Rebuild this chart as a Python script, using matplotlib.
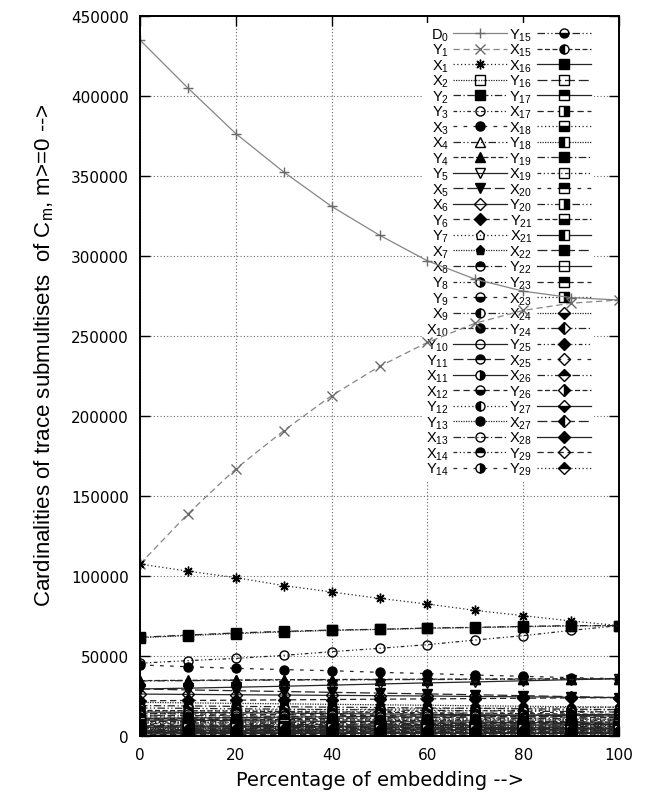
import matplotlib
matplotlib.use('Agg')
import matplotlib.pyplot as plt
from matplotlib import font_manager
import numpy as np

# percentage of embedding (x axis)
pct = [0, 10, 20, 30, 40, 50, 60, 70, 80, 90, 100]

# cardinalities, in thousands
D0 = [435, 405, 376.5, 352.5, 331, 313, 297, 285.5, 278, 274, 272.5]
Y1 = [107.5, 138.8, 167, 190.8, 212.7, 231, 246, 258, 266, 270.5, 272.5]
X1 = [107.5, 103, 99, 94, 90, 86, 82.5, 78.5, 75.2, 71.9, 69]
X2 = [61.5, 62.8, 64, 65.1, 66, 66.6, 67.3, 67.8, 68.3, 68.8, 69]
Y2 = [61.7, 63.1, 64.4, 65.4, 66.2, 66.7, 67.5, 67.9, 68.5, 69, 69]
Y3 = [45.5, 47.1, 48.5, 50.4, 52.7, 54.8, 57.1, 60, 62.7, 66, 69]
X3 = [44.4, 43.3, 42.3, 41.5, 40.8, 39.8, 39, 38.1, 37.3, 36.5, 35.8]
X4 = [34.4, 34.6, 34.8, 35, 35.1, 35.2, 35.3, 35.4, 35.5, 35.6, 35.8]
Y4 = [34.6, 34.8, 35, 35.2, 35.3, 35.4, 35.5, 35.6, 35.7, 35.8, 35.8]
Y5 = [29.4, 29.9, 30.5, 31.1, 31.8, 32.5, 33.2, 33.8, 34.5, 35.2, 35.8]
X5 = [29.4, 28.8, 28.3, 27.8, 27.3, 26.8, 26.3, 25.8, 25.2, 24.6, 24]
X6 = [26.2, 26, 25.8, 25.6, 25.4, 25.2, 25, 24.7, 24.5, 24.2, 24]
Y6 = [22, 22.2, 22.4, 22.6, 22.8, 23, 23.2, 23.4, 23.6, 23.8, 24]
Y7 = [15.5, 15.8, 16, 16.3, 16.5, 16.8, 17, 17.3, 17.5, 17.8, 18]
X7 = [21, 20.7, 20.4, 20.1, 19.8, 19.5, 19.2, 18.9, 18.6, 18.3, 18]
X8 = [19, 18.8, 18.5, 18.3, 18, 17.8, 17.5, 17.3, 17, 16.8, 16.5]
Y8 = [14, 14.3, 14.5, 14.8, 15, 15.3, 15.5, 15.8, 16, 16.3, 16.5]
Y9 = [12.5, 12.8, 13, 13.3, 13.5, 13.8, 14, 14.3, 14.5, 14.8, 15]
X9 = [17.5, 17.3, 17, 16.8, 16.5, 16.3, 16, 15.8, 15.5, 15.3, 15]
X10 = [16, 15.8, 15.5, 15.3, 15, 14.8, 14.5, 14.3, 14, 13.8, 13.5]
Y10 = [11, 11.3, 11.5, 11.8, 12, 12.3, 12.5, 12.8, 13, 13.3, 13.5]
Y11 = [10, 10.3, 10.5, 10.8, 11, 11.3, 11.5, 11.8, 12, 12.3, 12.5]
X11 = [15, 14.8, 14.5, 14.3, 14, 13.8, 13.5, 13.3, 13, 12.8, 12.5]
X12 = [14, 13.8, 13.5, 13.3, 13, 12.8, 12.5, 12.3, 12, 11.8, 11.5]
Y12 = [9, 9.3, 9.5, 9.8, 10, 10.3, 10.5, 10.8, 11, 11.3, 11.5]
Y13 = [8, 8.3, 8.5, 8.8, 9, 9.3, 9.5, 9.8, 10, 10.3, 10.5]
X13 = [13, 12.8, 12.5, 12.3, 12, 11.8, 11.5, 11.3, 11, 10.8, 10.5]
X14 = [12, 11.8, 11.5, 11.3, 11, 10.8, 10.5, 10.3, 10, 9.8, 9.5]
Y14 = [7.2, 7.4, 7.7, 7.9, 8.1, 8.4, 8.6, 8.8, 9.1, 9.3, 9.5]
Y15 = [6.5, 6.7, 6.9, 7.1, 7.3, 7.6, 7.8, 8, 8.2, 8.5, 8.7]
X15 = [11, 10.8, 10.5, 10.3, 10.1, 9.9, 9.6, 9.4, 9.2, 8.9, 8.7]
X16 = [10, 9.8, 9.6, 9.4, 9.2, 9, 8.8, 8.6, 8.4, 8.2, 8]
Y16 = [6, 6.2, 6.4, 6.6, 6.8, 7, 7.2, 7.4, 7.6, 7.8, 8]
Y17 = [5.4, 5.6, 5.8, 5.9, 6.1, 6.3, 6.5, 6.7, 6.8, 7, 7.2]
X17 = [9.2, 9, 8.8, 8.6, 8.4, 8.2, 8, 7.8, 7.6, 7.4, 7.2]
X18 = [8.5, 8.3, 8.1, 7.9, 7.7, 7.5, 7.3, 7.1, 6.9, 6.7, 6.5]
Y18 = [4.8, 5, 5.1, 5.3, 5.5, 5.7, 5.8, 6, 6.2, 6.3, 6.5]
Y19 = [4.3, 4.5, 4.6, 4.8, 5, 5.2, 5.3, 5.5, 5.7, 5.8, 6]
X19 = [7.8, 7.6, 7.4, 7.3, 7.1, 6.9, 6.7, 6.5, 6.4, 6.2, 6]
X20 = [7, 6.8, 6.7, 6.5, 6.4, 6.2, 6, 5.9, 5.7, 5.6, 5.4]
Y20 = [3.9, 4, 4.2, 4.3, 4.5, 4.7, 4.8, 5, 5.1, 5.3, 5.4]
Y21 = [3.5, 3.6, 3.8, 3.9, 4.1, 4.2, 4.4, 4.5, 4.6, 4.8, 4.9]
X21 = [6.4, 6.2, 6.1, 5.9, 5.8, 5.7, 5.5, 5.4, 5.2, 5.1, 4.9]
X22 = [5.8, 5.7, 5.5, 5.4, 5.3, 5.1, 5, 4.8, 4.7, 4.5, 4.4]
Y22 = [3.1, 3.2, 3.4, 3.5, 3.6, 3.8, 3.9, 4, 4.1, 4.3, 4.4]
Y23 = [2.7, 2.8, 2.9, 3.1, 3.2, 3.3, 3.4, 3.5, 3.6, 3.8, 3.9]
X23 = [5.2, 5.1, 4.9, 4.8, 4.7, 4.6, 4.4, 4.3, 4.2, 4, 3.9]
X24 = [4.6, 4.5, 4.4, 4.2, 4.1, 4, 3.9, 3.8, 3.6, 3.5, 3.4]
Y24 = [2.3, 2.4, 2.5, 2.6, 2.7, 2.9, 3, 3.1, 3.2, 3.3, 3.4]
Y25 = [2, 2.1, 2.2, 2.3, 2.4, 2.5, 2.6, 2.7, 2.8, 2.9, 3]
X25 = [4, 3.9, 3.8, 3.7, 3.6, 3.5, 3.4, 3.3, 3.2, 3.1, 3]
X26 = [3.4, 3.3, 3.2, 3.1, 3, 3, 2.9, 2.8, 2.7, 2.6, 2.5]
Y26 = [1.6, 1.7, 1.8, 1.9, 2, 2, 2.1, 2.2, 2.3, 2.4, 2.5]
Y27 = [1.3, 1.4, 1.5, 1.5, 1.6, 1.7, 1.7, 1.8, 1.9, 1.9, 2]
X27 = [2.8, 2.7, 2.6, 2.6, 2.5, 2.4, 2.3, 2.2, 2.2, 2.1, 2]
X28 = [2.2, 2.1, 2.1, 2, 1.9, 1.9, 1.8, 1.7, 1.6, 1.6, 1.5]
Y29a = [0.9, 0.9, 1, 1, 1, 1.1, 1.1, 1.1, 1.2, 1.2, 1.2]
Y29b = [0.4, 0.4, 0.5, 0.5, 0.6, 0.6, 0.6, 0.7, 0.7, 0.8, 0.8]

# legend order (column-major, as in the picture)
series = [
    ('D', '0', D0), ('Y', '1', Y1), ('X', '1', X1), ('X', '2', X2),
    ('Y', '2', Y2), ('Y', '3', Y3), ('X', '3', X3), ('X', '4', X4),
    ('Y', '4', Y4), ('Y', '5', Y5), ('X', '5', X5), ('X', '6', X6),
    ('Y', '6', Y6), ('Y', '7', Y7), ('X', '7', X7), ('X', '8', X8),
    ('Y', '8', Y8), ('Y', '9', Y9), ('X', '9', X9), ('X', '10', X10),
    ('Y', '10', Y10), ('Y', '11', Y11), ('X', '11', X11), ('X', '12', X12),
    ('Y', '12', Y12), ('Y', '13', Y13), ('X', '13', X13), ('X', '14', X14),
    ('Y', '14', Y14),
    ('Y', '15', Y15), ('X', '15', X15), ('X', '16', X16), ('Y', '16', Y16),
    ('Y', '17', Y17), ('X', '17', X17), ('X', '18', X18), ('Y', '18', Y18),
    ('Y', '19', Y19), ('X', '19', X19), ('X', '20', X20), ('Y', '20', Y20),
    ('Y', '21', Y21), ('X', '21', X21), ('X', '22', X22), ('Y', '22', Y22),
    ('Y', '23', Y23), ('X', '23', X23), ('X', '24', X24), ('Y', '24', Y24),
    ('Y', '25', Y25), ('X', '25', X25), ('X', '26', X26), ('Y', '26', Y26),
    ('Y', '27', Y27), ('X', '27', X27), ('X', '28', X28), ('Y', '29', Y29a),
    ('Y', '29', Y29b),
]

# gnuplot-like point types: (marker, fill)
first_points = [('+', 'full'), ('x', 'full'), ((8, 2, 0), 'full'),
                ('s', 'none'), ('s', 'full'), ('o', 'none'), ('o', 'full'),
                ('^', 'none'), ('^', 'full'), ('v', 'none'), ('v', 'full'),
                ('D', 'none'), ('D', 'full'), ('p', 'none'), ('p', 'full')]
part_fills = ['top', 'right', 'bottom', 'left', 'full', 'none']
line_styles = ['-', (0, (5, 3)), (0, (1, 2)), (0, (1, 1)), (0, (6, 2, 1, 2)),
               (0, (3, 2, 1, 2, 1, 2)), (0, (3, 5)), (0, (6, 2, 1, 2, 1, 2)),
               (0, (4, 2)), '-', (0, (8, 3))]


def point_style(i):
	if i < len(first_points):
		return first_points[i]
	j = i - len(first_points)
	if j < 16:
		return 'o', part_fills[j % len(part_fills)]
	if j < 32:
		return 's', part_fills[j % len(part_fills)]
	return 'D', part_fills[j % len(part_fills)]


def main():
	names = {f.name for f in font_manager.fontManager.ttflist}
	narrow = 'Liberation Sans Narrow' if 'Liberation Sans Narrow' in names else 'Liberation Sans'

	plt.rcParams['mathtext.fontset'] = 'custom'
	plt.rcParams['mathtext.rm'] = 'Liberation Sans'
	plt.rcParams['mathtext.it'] = 'Liberation Sans'
	plt.rcParams['mathtext.default'] = 'rm'

	fig = plt.figure(figsize=(6.48, 8.03), dpi=100)
	ax = fig.add_axes([140 / 648, 1 - 737 / 803, 479 / 648, 720 / 803])

	handles = []
	labels = []
	for i, (letter, idx, vals) in enumerate(series):
		marker, fill = point_style(i)
		color = '#858585' if i < 2 else '#262626'
		edge = '#6a6a6a' if i < 2 else 'black'
		ms = 7 if i < 3 else 6.5
		kw = dict(marker=marker, markersize=ms, markeredgecolor=edge,
				  markeredgewidth=1.0, fillstyle=fill)
		if fill == 'none':
			kw['markerfacecolor'] = 'none'
			kw['fillstyle'] = 'full'
		else:
			kw['markerfacecolor'] = 'black'
			kw['markerfacecoloralt'] = 'white'
		line, = ax.plot(pct, np.array(vals) * 1000, color=color, linewidth=0.9,
						linestyle=line_styles[i % len(line_styles)], zorder=2, **kw)
		handles.append(line)
		labels.append(letter + r'$_{%s}$' % idx)

	ax.set_xlim(0, 100)
	ax.set_ylim(0, 450000)
	ax.set_xticks(range(0, 101, 20))
	ax.set_yticks(range(0, 450001, 50000))
	ax.grid(True, linestyle=(0, (1, 2)), color='#666666', linewidth=0.8)
	ax.set_axisbelow(True)
	ax.tick_params(direction='in', length=7, width=1, top=True, right=True,
				   labelsize=11, pad=8)
	for lbl in ax.get_xticklabels() + ax.get_yticklabels():
		lbl.set_family('DejaVu Sans')
	for sp in ax.spines.values():
		sp.set_linewidth(1.4)

	ax.set_xlabel('Percentage of embedding -->', fontsize=14, family='DejaVu Sans', labelpad=6)
	ax.set_ylabel(r'Cardinalities of trace submultisets  of C$_{m}$, m>=0 -->',
				  fontsize=16, family=narrow)
	ax.yaxis.set_label_coords(-0.175, 0.53)

	leg = ax.legend(handles, labels, ncol=2, loc='upper right',
					bbox_to_anchor=(0.962, 1.0),
					prop={'family': narrow, 'size': 10.5}, markerfirst=False,
					numpoints=1, handlelength=3.7, handletextpad=0.3,
					columnspacing=0.15, labelspacing=-0.06, borderpad=0.2,
					frameon=True, facecolor='white', edgecolor='none', framealpha=1)
	leg.set_zorder(1)

	fig.savefig('out.png', dpi=100)


if __name__ == '__main__':
	main()
